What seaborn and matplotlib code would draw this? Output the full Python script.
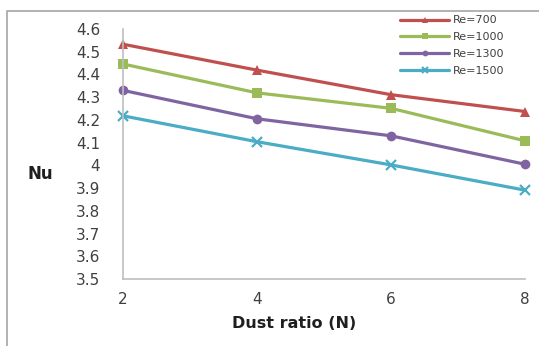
import matplotlib
matplotlib.use("Agg")
import matplotlib.pyplot as plt
import seaborn as sns
import pandas as pd
from matplotlib.patches import Rectangle

dust_ratio = [2, 4, 6, 8]
re_labels = ["Re=700", "Re=1000", "Re=1300", "Re=1500"]
nu_re700 = [4.533, 4.419, 4.311, 4.237]
nu_re1000 = [4.446, 4.319, 4.251, 4.108]
nu_re1300 = [4.330, 4.205, 4.130, 4.005]
nu_re1500 = [4.218, 4.104, 4.002, 3.891]
y_ticks = [3.5, 3.6, 3.7, 3.8, 3.9, 4.0, 4.1, 4.2, 4.3, 4.4, 4.5, 4.6]
y_tick_labels = ["3.5", "3.6", "3.7", "3.8", "3.9", "4", "4.1", "4.2", "4.3", "4.4", "4.5", "4.6"]

series = [nu_re700, nu_re1000, nu_re1300, nu_re1500]
rows = []
for lab, vals in zip(re_labels, series):
    for x, v in zip(dust_ratio, vals):
        rows.append({"N": x, "Nu": v, "Re": lab})
df = pd.DataFrame(rows)

sns.set_style("white")
plt.rcParams['font.family'] = ['DejaVu Sans']

colors = ["#C0504D", "#9BBB59", "#8064A2", "#4BACC6"]
markers = ["^", "s", "o", "x"]

fig = plt.figure(figsize=(5.39, 3.46), dpi=100)
ax = fig.add_axes([123/539, 1-279/346, (525-123)/539, (279-29)/346])

for lab, c, m in zip(re_labels, colors, markers):
    sub = df[df["Re"] == lab]
    sns.lineplot(data=sub, x="N", y="Nu", ax=ax, color=c, marker=m,
                 markersize=7, markeredgewidth=1.6 if m == "x" else 0,
                 markeredgecolor=c, linewidth=2.3, label=lab, clip_on=False)

ax.set_xlim(2, 8)
ax.set_ylim(3.5, 4.6)
ax.set_xticks(dust_ratio)
ax.set_xticklabels([str(x) for x in dust_ratio])
ax.set_yticks(y_ticks)
ax.set_yticklabels(y_tick_labels)
ax.tick_params(axis='both', length=4.5, width=1, color="#BFBFBF", labelsize=11,
               labelcolor="#404040", direction="out")
ax.tick_params(axis='x', pad=5)
ax.tick_params(axis='y', pad=12)
for s in ["top", "right"]:
    ax.spines[s].set_visible(False)
for s in ["left", "bottom"]:
    ax.spines[s].set_color("#BFBFBF")
    ax.spines[s].set_linewidth(1.2)

ax.set_xlabel("Dust ratio (N)", fontsize=11.5, fontweight="bold", color="#1F1F1F")
ax.xaxis.set_label_coords((294.5-123)/402, -(316-279)/250)
ax.set_ylabel("Nu", fontsize=12, fontweight="bold", color="#1F1F1F", rotation=0,
              va="center", ha="center")
ax.yaxis.set_label_coords(-(123-40)/402, (279-174)/250)

leg = ax.legend(loc="upper left", bbox_to_anchor=(396/539, 1-11/346),
                bbox_transform=fig.transFigure, frameon=False, fontsize=8,
                handlelength=4.4, handletextpad=0.35, labelspacing=0.62,
                borderaxespad=0, markerscale=0.6)
for t in leg.get_texts():
    t.set_color("#404040")

fig.patches.append(Rectangle((7/539, -0.2), 1.2, 1.2-11/346, transform=fig.transFigure,
                             fill=False, edgecolor="#A6A6A6", linewidth=1.2))

fig.savefig("out.png", dpi=100)
